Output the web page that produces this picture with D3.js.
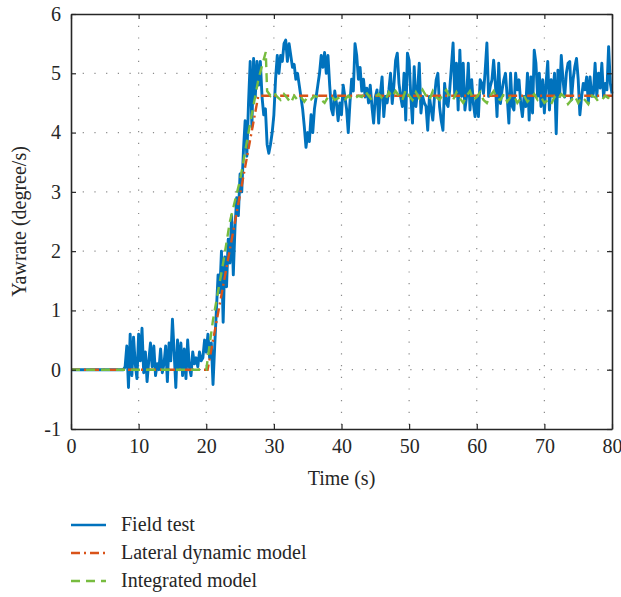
<!DOCTYPE html>
<html>
<head>
<meta charset="utf-8">
<script src="https://cdn.jsdelivr.net/npm/d3@7"></script>
<style>
  body { margin: 0; background: #fff; }
  svg text { font-family: "Liberation Serif", "DejaVu Serif", serif; fill: #262626; }
</style>
</head>
<body>
<div id="chart"></div>
<script>
// axis ticks
var xTicks = [0, 10, 20, 30, 40, 50, 60, 70, 80];
var yTicks = [-1, 0, 1, 2, 3, 4, 5, 6];

// field test, sampled every 0.25 s starting at 7.75 s (zero before)
var fieldStart = 7.75, fieldStep = 0.25;
var fieldYaw = [
  0, 0.05, 0.4, -0.3, 0.6, -0.1, 0.55, 0.1, -0.15, 0.6, 0.15, 0.7, -0.05, 0.3, -0.2, 0.15, 0.45,
  0.05, 0.4, -0.1, 0.1, 0.0, 0.35, -0.05, 0.1, 0.4, -0.2, 0.45, 0.15, 0.85, 0.3, -0.3, 0.5,
  0.0, 0.45, -0.1, 0.35, -0.15, 0.5, 0.05, -0.1, 0.3, 0.1, 0.2, 0.05, 0.3, 0.15, 0.2, 0.5,
  0.3, 0.6, 0.2, 0.45, -0.25, 0.4, 1.0, 1.6, 1.3, 2.0, 0.8, 1.9, 1.4, 2.2, 1.8, 2.6,
  1.6, 2.4, 2.9, 2.6, 3.3, 3.0, 3.7, 4.2, 3.6, 4.5, 5.2, 4.1, 5.25, 4.6, 5.2, 4.8,
  5.2, 4.6, 4.3, 4.4, 3.8, 3.65, 3.8, 4.0, 4.3, 4.9, 5.3, 5.0, 5.3, 5.2, 5.5, 5.56,
  5.2, 5.5, 5.3, 5.1, 5.15, 4.9, 5.0, 4.8, 4.6, 4.4, 4.1, 3.75, 4.0, 3.85, 4.3, 4.0,
  4.4, 4.6, 4.8, 5.0, 5.3, 5.1, 5.35, 5.0, 5.3, 4.8, 4.4, 4.3, 4.7, 4.5, 4.2, 4.5,
  4.3, 4.8, 4.6, 4.4, 4.0, 4.5, 4.9, 4.7, 5.5, 5.3, 4.9, 5.1, 4.7, 4.9, 4.6, 4.75,
  4.5, 4.8, 4.44, 4.16, 4.6, 4.72, 4.16, 4.66, 4.94, 4.27, 4.61, 4.5, 4.72, 5.0, 4.49, 4.8,
  5.22, 5.34, 4.83, 4.6, 4.44, 5.0, 4.21, 5.34, 5.22, 4.61, 4.16, 5.11, 4.44, 4.7, 5.17, 4.33,
  4.61, 4.5, 4.44, 4.04, 4.61, 4.4, 4.21, 4.6, 4.89, 5.0, 4.44, 4.2, 4.04, 4.83, 4.5, 4.44,
  4.72, 5.11, 5.51, 4.61, 5.17, 4.38, 5.39, 4.61, 5.17, 4.38, 4.61, 5.17, 4.38, 4.89, 4.49, 4.27,
  4.61, 4.27, 4.89, 4.83, 4.66, 5.05, 5.51, 4.61, 4.78, 4.89, 5.22, 4.83, 4.27, 5.17, 4.49, 4.72,
  4.89, 5.0, 4.61, 4.16, 5.0, 4.44, 4.38, 5.0, 4.72, 4.89, 4.49, 4.27, 4.61, 4.44, 5.0, 4.21,
  4.94, 4.33, 5.39, 5.17, 4.61, 5.0, 4.44, 4.89, 4.33, 4.83, 5.2, 4.38, 4.89, 4.61, 5.0, 3.98,
  5.05, 4.61, 5.3, 4.9, 4.6, 5.0, 5.17, 5.2, 4.55, 4.9, 5.11, 5.25, 4.9, 4.3, 4.6, 4.83,
  4.72, 4.94, 4.5, 4.94, 4.61, 4.66, 5.17, 4.61, 5.0, 4.75, 5.17, 4.6, 4.83, 4.72, 5.45, 4.83,
  4.66
];

// lateral dynamic model (breakpoints)
var lateralTime = [0, 20.2, 27.7, 80];
var lateralYaw = [0, 0, 4.62, 4.62];

// integrated model: start-up and ramp
var integratedTime = [0, 20.0, 21.0, 22.5, 23.5, 25.0, 26.5, 27.7, 28.8, 29.0];
var integratedYaw = [0, 0, 0.84, 1.8, 2.5, 3.2, 4.16, 4.89, 5.36, 4.7];
// integrated model: steady part every 0.5 s from 29.5 s
var steadyStart = 29.5, steadyStep = 0.5;
var steadyYaw = [
  4.62, 4.68, 4.6, 4.55, 4.65, 4.58, 4.5, 4.62, 4.55, 4.6, 4.52, 4.6, 4.56, 4.62, 4.6, 4.55,
  4.5, 4.6, 4.62, 4.55, 4.58, 4.6, 4.56, 4.62, 4.56, 4.58, 4.62, 4.6, 4.7, 4.62, 4.55, 4.6,
  4.65, 4.58, 4.55, 4.68, 4.6, 4.7, 4.62, 4.55, 4.72, 4.62, 4.55, 4.68, 4.58, 4.72, 4.62, 4.55,
  4.7, 4.6, 4.55, 4.65, 4.72, 4.6, 4.55, 4.68, 4.58, 4.5, 4.62, 4.7, 4.55, 4.6, 4.68, 4.55,
  4.5, 4.62, 4.7, 4.58, 4.55, 4.65, 4.52, 4.6, 4.62, 4.5, 4.58, 4.62, 4.52, 4.58, 4.65, 4.55,
  4.6, 4.5, 4.55, 4.48, 4.6, 4.55, 4.65, 4.6, 4.48, 4.55, 4.62, 4.5, 4.6, 4.55, 4.48, 4.62,
  4.6, 4.52, 4.55, 4.62, 4.58, 4.5
];

var seriesNames = ["Field test", "Lateral dynamic model", "Integrated model"];
var colors = ["#0072BD", "#D95319", "#77BC3F"];

var margin = { top: 14, right: 9, bottom: 168, left: 71 };
var W = 621, H = 597;
var width = W - margin.left - margin.right,
    height = H - margin.top - margin.bottom;

var svg = d3.select("#chart").append("svg")
    .attr("width", W)
    .attr("height", H);

var g = svg.append("g")
    .attr("transform", "translate(" + margin.left + "," + margin.top + ")");

var x = d3.scaleLinear().domain([0, 80]).range([0, width]);
var y = d3.scaleLinear().domain([-1, 6]).range([height, 0]);

// dotted grid
g.append("g").selectAll("line").data(xTicks.slice(1, -1)).enter().append("line")
    .attr("x1", function(d) { return x(d); }).attr("x2", function(d) { return x(d); })
    .attr("y1", 0).attr("y2", height)
    .attr("stroke", "#8a8a8a").attr("stroke-width", 1.2)
    .attr("stroke-dasharray", "1.2,10.5");
g.append("g").selectAll("line").data(yTicks.slice(1, -1)).enter().append("line")
    .attr("y1", function(d) { return y(d); }).attr("y2", function(d) { return y(d); })
    .attr("x1", 0).attr("x2", width)
    .attr("stroke", "#8a8a8a").attr("stroke-width", 1.2)
    .attr("stroke-dasharray", "1.2,10.5");

// build point lists
var fieldData = [[0, 0]];
fieldYaw.forEach(function(v, i) { fieldData.push([fieldStart + i * fieldStep, v]); });

var lateralData = lateralTime.map(function(t, i) { return [t, lateralYaw[i]]; });

var integratedData = integratedTime.map(function(t, i) { return [t, integratedYaw[i]]; });
steadyYaw.forEach(function(v, i) { integratedData.push([steadyStart + i * steadyStep, v]); });

var line = d3.line()
    .x(function(d) { return x(d[0]); })
    .y(function(d) { return y(d[1]); });

var plot = g.append("g");
plot.append("path").datum(fieldData)
    .attr("d", line).attr("fill", "none")
    .attr("stroke", colors[0]).attr("stroke-width", 2.9)
    .attr("stroke-linejoin", "round");
plot.append("path").datum(lateralData)
    .attr("d", line).attr("fill", "none")
    .attr("stroke", colors[1]).attr("stroke-width", 2.4)
    .attr("stroke-dasharray", "9,4,2,4");
plot.append("path").datum(integratedData)
    .attr("d", line).attr("fill", "none")
    .attr("stroke", colors[2]).attr("stroke-width", 2.4)
    .attr("stroke-dasharray", "9,6");

// axes (ticks inside, box on all sides)
var fmt = function(d) { return String(d); };
var xAxis = d3.axisBottom(x).tickValues(xTicks).tickFormat(fmt).tickSizeInner(-5).tickSizeOuter(0).tickPadding(10);
var yAxis = d3.axisLeft(y).tickValues(yTicks).tickFormat(fmt).tickSizeInner(-5).tickSizeOuter(0).tickPadding(10);

var gx = g.append("g").attr("transform", "translate(0," + height + ")").call(xAxis);
var gy = g.append("g").call(yAxis);
var gxt = g.append("g").call(d3.axisTop(x).tickValues(xTicks).tickSizeInner(-5).tickSizeOuter(0).tickFormat(""));
var gyr = g.append("g").attr("transform", "translate(" + width + ",0)")
    .call(d3.axisRight(y).tickValues(yTicks).tickSizeInner(-5).tickSizeOuter(0).tickFormat(""));

[gx, gy, gxt, gyr].forEach(function(a) {
    a.select(".domain").attr("stroke", "#262626").attr("stroke-width", 1.6);
    a.selectAll(".tick line").attr("stroke", "#262626").attr("stroke-width", 1.2);
    a.selectAll("text").style("font-size", "20px").attr("fill", "#262626");
});

// axis titles
g.append("text")
    .attr("x", width / 2).attr("y", height + 56)
    .attr("text-anchor", "middle")
    .style("font-size", "20px")
    .text("Time (s)");
g.append("text")
    .attr("transform", "translate(" + (-45) + "," + (height / 2) + ") rotate(-90)")
    .attr("text-anchor", "middle")
    .style("font-size", "20px")
    .text("Yawrate (degree/s)");

// legend
var dashes = [null, "9,4,2,4", "9,6"];
var legend = svg.append("g").attr("transform", "translate(71,525)");
seriesNames.forEach(function(name, i) {
    var row = legend.append("g").attr("transform", "translate(0," + (i * 28) + ")");
    row.append("line")
        .attr("x1", 0).attr("x2", 35).attr("y1", 0).attr("y2", 0)
        .attr("stroke", colors[i]).attr("stroke-width", 2.6)
        .attr("stroke-dasharray", dashes[i]);
    row.append("text")
        .attr("x", 50).attr("y", 6)
        .style("font-size", "20px")
        .text(name);
});
</script>
</body>
</html>
